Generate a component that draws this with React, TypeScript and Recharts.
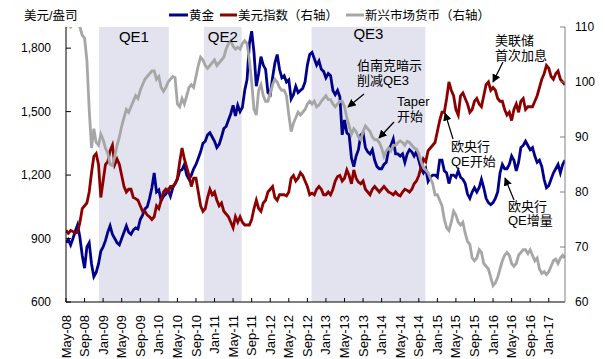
import React from 'react';
import { ComposedChart, Line, XAxis, YAxis, ReferenceArea } from 'recharts';

// x-axis tick labels, every 4 months starting May-08
const tickLabels = [
  'May-08', 'Sep-08', 'Jan-09', 'May-09', 'Sep-09', 'Jan-10', 'May-10', 'Sep-10', 'Jan-11',
  'May-11', 'Sep-11', 'Jan-12', 'May-12', 'Sep-12', 'Jan-13', 'May-13', 'Sep-13', 'Jan-14',
  'May-14', 'Sep-14', 'Jan-15', 'May-15', 'Sep-15', 'Jan-16', 'May-16', 'Sep-16', 'Jan-17',
];

// semi-monthly values, May-08 .. Apr-17 (2 per month)
const gold = [
  880, 895, 870, 900, 935, 965, 905, 820, 760, 860, 880, 780, 720, 740, 780, 840,
  860, 890, 930, 960, 920, 900, 880, 870, 900, 930, 960, 930, 920, 940, 950, 945, 990, 1010, 1040, 1050, 1090, 1140, 1210, 1120,
  1130, 1080, 1100, 1110, 1130, 1100, 1140, 1160, 1180, 1220, 1225, 1250, 1200, 1180, 1200, 1230, 1250, 1280, 1310, 1350, 1360, 1390, 1400, 1380,
  1360, 1330, 1345, 1380, 1420, 1430, 1460, 1490, 1530, 1480, 1530, 1500, 1520, 1600, 1650, 1820, 1880, 1780, 1620, 1680, 1760, 1720, 1700, 1590,
  1580, 1660, 1730, 1770, 1700, 1660, 1670, 1640, 1650, 1560, 1580, 1620, 1590, 1600, 1610, 1640, 1720, 1770, 1780, 1750, 1720, 1740, 1700, 1690,
  1660, 1680, 1670, 1600, 1580, 1600, 1570, 1390, 1460, 1400, 1390, 1280, 1240, 1290, 1320, 1390, 1400, 1330, 1310, 1300, 1320, 1270, 1240, 1230,
  1230, 1250, 1260, 1320, 1340, 1370, 1300, 1300, 1290, 1300, 1260, 1300, 1320, 1310, 1290, 1310, 1270, 1230, 1210, 1230, 1170, 1190, 1200, 1200,
  1190, 1270, 1270, 1220, 1210, 1160, 1200, 1200, 1190, 1220, 1190, 1180, 1160, 1110, 1090, 1120, 1140, 1120, 1140, 1180, 1140, 1090, 1070, 1060,
  1070, 1090, 1120, 1210, 1250, 1230, 1230, 1250, 1290, 1270, 1220, 1260, 1330, 1340, 1360, 1340, 1320, 1330, 1290, 1260, 1270, 1240, 1180, 1140,
  1150, 1180, 1210, 1230, 1250, 1210, 1250, 1270,
];

const dollarIndex = [
  73.0, 72.5, 73.0, 72.8, 72.5, 72.7, 74.5, 77.0, 77.5, 78.0, 80.0, 83.5, 86.5, 87.0, 85.0, 79.0,
  82, 85, 85.5, 87.5, 88.5, 85, 86, 85, 83, 81, 80, 80.5, 80.5, 79, 78.8, 78.5, 77.5, 76.5, 76.5, 75.8, 75.5, 75.0, 75.5, 77.5,
  77, 78.5, 80, 80.5, 80, 81, 81, 81.5, 82.5, 85.5, 88, 86, 84.5, 83, 81, 82.5, 82.5, 80, 77.5, 76.5, 77, 79, 80.5, 79.5,
  80, 78.5, 77.5, 78, 76.5, 76, 75.5, 74.5, 73.5, 75.5, 74.5, 75.5, 74.5, 74, 74, 74, 75, 77, 78.5, 77, 76.5, 78, 78.5, 80,
  80.5, 81, 79, 78.5, 79.5, 79.5, 79.5, 79.3, 80, 82.5, 83, 82, 82.5, 83.5, 83, 82, 81, 79.5, 79.8, 79.5, 80.5, 81, 80.5, 79.5,
  79.5, 80, 79.5, 80.5, 82, 82.8, 83, 82, 82.5, 84, 83, 81.5, 84, 82.5, 81.8, 81.5, 82, 80.5, 80, 79.5, 80.5, 81, 80.5, 80,
  80.5, 81, 80.5, 80, 79.8, 79.5, 80, 79.5, 79.3, 80, 80.5, 80.3, 80, 80.5, 81.5, 82, 83, 84.5, 86, 85.5, 87.5, 88, 88.5, 89,
  91, 93, 94.5, 94.5, 97, 100, 98.5, 97.5, 95, 94, 97.5, 98, 97, 96, 94.5, 95, 96.5, 97, 96, 95.5, 97.5, 99.5, 100, 98.5,
  99, 98.5, 97, 96.5, 96.5, 95, 94, 94.5, 93, 95, 96, 94.5, 96.5, 97, 95, 95.5, 95.5, 95.5, 96.5, 97.5, 99, 100.5, 101.5, 103,
  102.5, 101, 100.5, 101.5, 102, 100.5, 100, 99.5,
];

const emCurrency = [
  110, 110.5, 110, 110.5, 111, 110.5, 110, 108.5, 108, 104, 95, 88, 91.5, 89, 88.5, 90.5,
  89.5, 88, 87, 85, 84.8, 86.5, 88.5, 90, 92, 93.5, 95, 94.5, 95.5, 96.5, 97.5, 97, 98.5, 99.5, 100.5, 101, 101.5, 102, 102, 100.5,
  101, 99, 98.3, 99, 100, 100.5, 101, 100.8, 96, 95.5, 97, 96, 97.5, 99, 99.5, 99, 101, 103, 104.5, 104, 103, 102.5, 103, 103.5,
  104, 103, 103.5, 104, 104.5, 106, 107, 107.5, 106.5, 106, 106.3, 106, 107, 107.5, 107, 104, 100, 95, 94, 98.5, 99.5, 97.5, 96.5, 96.5,
  98, 99.5, 100.5, 100, 99, 98.5, 98.5, 97.5, 94, 91, 92.5, 93.5, 94.5, 94, 94.5, 95, 96, 96.5, 96, 96.5, 95.5, 95.8, 96.5, 97,
  97.5, 96.8, 96.8, 96, 95.5, 96, 96.5, 96.5, 95.5, 93.5, 92, 90.5, 91.5, 91, 90, 89.5, 91, 92, 91.5, 91, 90, 89.5, 89.5, 89,
  88, 86.5, 87.5, 88, 87.5, 88.5, 88.5, 89, 89.3, 89, 88.5, 89.2, 89, 88.5, 88, 87.8, 87, 85.5, 84.5, 84, 83.5, 82.5, 81.5, 79.5,
  79.5, 78.5, 77.5, 75, 73.5, 73, 74.5, 76.5, 75.8, 74.5, 74, 74.5, 72.5, 71, 70.5, 68, 67.5, 68, 69.5, 69, 67, 66.5, 66, 64.5,
  63, 63.5, 64.5, 66, 67.5, 68.5, 69, 68.5, 67, 66.5, 67, 68.5, 69, 69.5, 69.5, 68.8, 69.5, 68.5, 67.5, 68, 66, 65.2, 65.5, 65,
  65.5, 66.5, 67.5, 67.8, 67, 68, 68.5, 68,
];

// QE periods in months since May-08
const qePeriods = [
  { name: 'QE1', start: 7.1, end: 22.15, offset: 4 },
  { name: 'QE2', start: 29.7, end: 37.85, offset: 4 },
  { name: 'QE3', start: 52.9, end: 77.4, offset: 1 },
];

const data = gold.map((g, i) => ({ t: i / 2, gold: g, dxy: dollarIndex[i], em: emCurrency[i] }));

const FONT = '"Liberation Sans", Arial, "Noto Sans CJK SC", sans-serif';
const BLUE = '#00008c';
const RED = '#8c0000';
const GRAY = '#a6a6a6';

const XTick = (props: any) => {
  const { x, y, payload } = props;
  const label = tickLabels[Math.round(payload.value / 4)];
  return (
    <text x={x} y={y} transform={`rotate(-90, ${x}, ${y})`} textAnchor="end" dy="0.35em"
      fontSize={13} fontFamily={FONT} fill="#000">{label}</text>
  );
};

export default function App() {
  const ticks = tickLabels.map((_, i) => i * 4);
  return (
    <div style={{ position: 'absolute', left: 0, top: 0, width: 605, height: 359, background: '#fff' }}>
      <ComposedChart width={605} height={359} data={data} margin={{ top: 27, right: 0, bottom: 7, left: 0 }}>
        {qePeriods.map((q) => (
          <ReferenceArea key={q.name} yAxisId="left" x1={q.start} x2={q.end} y1={600} y2={1900}
            fill="#e3e3ef" fillOpacity={1} stroke="none" ifOverflow="hidden"
            label={{ value: q.name, position: 'insideTop', offset: q.offset, fontSize: 15, fill: '#000', fontFamily: FONT }} />
        ))}
        <XAxis dataKey="t" type="number" domain={[0, 107.5]} ticks={ticks} interval={0}
          height={50} tickSize={-4} tickMargin={17} tick={<XTick />} allowDataOverflow
          axisLine={{ stroke: '#000' }} tickLine={{ stroke: '#000' }} />
        <YAxis yAxisId="left" domain={[600, 1900]} ticks={[600, 900, 1200, 1500, 1800]} allowDataOverflow
          tickFormatter={(v: number) => v.toLocaleString('en-US')} width={66} tickSize={-5} tickMargin={20}
          axisLine={{ stroke: '#000' }} tickLine={{ stroke: '#000' }}
          tick={{ fontSize: 12, fill: '#000', fontFamily: FONT }} />
        <YAxis yAxisId="right" orientation="right" domain={[60, 110]} ticks={[60, 70, 80, 90, 100, 110]} allowDataOverflow
          width={40} tickSize={-5} tickMargin={15}
          axisLine={{ stroke: '#808080' }} tickLine={{ stroke: '#808080' }}
          tick={{ fontSize: 12, fill: '#000', fontFamily: FONT }} />
        <Line yAxisId="left" dataKey="gold" stroke={BLUE} strokeWidth={2.8} dot={false} isAnimationActive={false} />
        <Line yAxisId="right" dataKey="dxy" stroke={RED} strokeWidth={2.8} dot={false} isAnimationActive={false} />
        <Line yAxisId="right" dataKey="em" stroke={GRAY} strokeWidth={2.8} dot={false} isAnimationActive={false} />
      </ComposedChart>
      <svg width={605} height={359} style={{ position: 'absolute', left: 0, top: 0, pointerEvents: 'none' }}
        fontFamily={FONT} fontSize={13} fill="#000">
        <defs>
          <marker id="arrow" viewBox="0 0 10 10" refX="9" refY="5" markerWidth="7" markerHeight="7" orient="auto-start-reverse">
            <path d="M0,0 L10,5 L0,10 z" fill="#000" />
          </marker>
        </defs>
        {/* legend */}
        <text x={24} y={20} fontSize={12.5}>美元/盎司</text>
        <line x1={169} y1={15} x2={188} y2={15} stroke={BLUE} strokeWidth={3} />
        <text x={189} y={20} fontSize={12.5}>黄金</text>
        <line x1={220} y1={15} x2={237} y2={15} stroke={RED} strokeWidth={3} />
        <text x={238} y={20} fontSize={12.5}>美元指数（右轴）</text>
        <line x1={346} y1={15} x2={364} y2={15} stroke={GRAY} strokeWidth={3} />
        <text x={365} y={20} fontSize={12.5}>新兴市场货币（右轴）</text>
        {/* annotations */}
        <text x={357} y={70}>伯南克暗示</text>
        <text x={357} y={85}>削减QE3</text>
        <line x1={364} y1={94} x2={348} y2={107} stroke="#000" strokeWidth={1.2} markerEnd="url(#arrow)" />
        <text x={397} y={106}>Taper</text>
        <text x={397} y={121}>开始</text>
        <line x1={394} y1={122} x2={379} y2={138} stroke="#000" strokeWidth={1.2} markerEnd="url(#arrow)" />
        <text x={495} y={45}>美联储</text>
        <text x={495} y={60}>首次加息</text>
        <line x1={503} y1={62} x2={493} y2={82} stroke="#000" strokeWidth={1.2} markerEnd="url(#arrow)" />
        <text x={451} y={151}>欧央行</text>
        <text x={451} y={166}>QE开始</text>
        <line x1={453} y1={139} x2={445} y2={113} stroke="#000" strokeWidth={1.2} markerEnd="url(#arrow)" />
        <text x={508} y={211}>欧央行</text>
        <text x={508} y={225}>QE增量</text>
        <line x1={514} y1={200} x2={505} y2={178} stroke="#000" strokeWidth={1.2} markerEnd="url(#arrow)" />
      </svg>
    </div>
  );
}
